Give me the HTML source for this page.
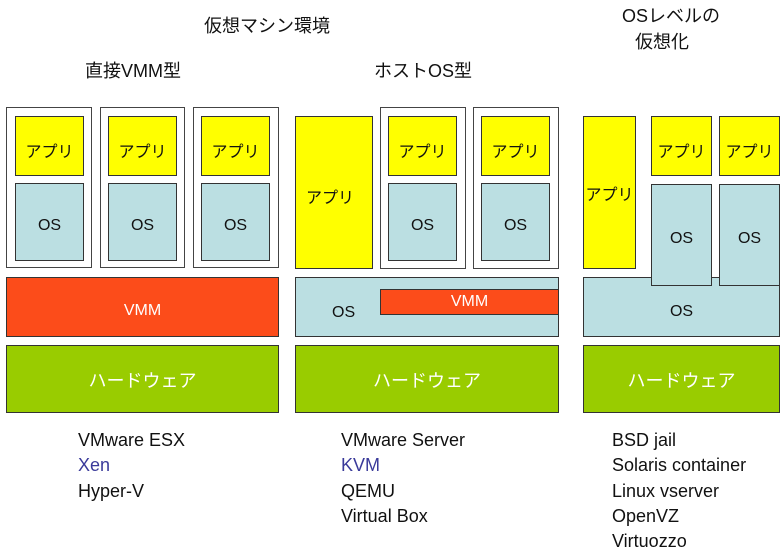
<!DOCTYPE html>
<html><head><meta charset="utf-8"><style>
body{margin:0;width:784px;height:553px;background:#fff;position:relative;overflow:hidden;font-family:"Liberation Sans","Noto Sans CJK JP",sans-serif;}
div{position:absolute;box-sizing:border-box;}
.b{border:1.5px solid #333;display:flex;align-items:center;justify-content:center;font-size:16px;color:#111;padding-top:7px;}
.vm{border:1.5px solid #444;background:#fff;}
.app{background:#ffff00;}
.os{background:#bbdfe2;}
.vmm{background:#fc4c1a;color:#fff;}
.hw{background:#99cc00;color:#fff;font-size:18px;padding-top:2px;}
.t{font-size:18px;color:#111;white-space:nowrap;}
.l{font-size:18px;color:#111;line-height:25.3px;white-space:nowrap;}
.l span{color:#3a3a9a;}
</style></head><body>
<div class="t" style="left:204px;top:12px">仮想マシン環境</div>
<div class="t" style="left:85px;top:57px">直接VMM型</div>
<div class="t" style="left:374px;top:57px">ホストOS型</div>
<div class="t" style="left:622px;top:3px;text-align:center;width:80px;line-height:26px">OSレベルの<br>仮想化</div>

<div class="vm" style="left:6px;top:107px;width:86px;height:161px"></div>
<div class="vm" style="left:100px;top:107px;width:85px;height:161px"></div>
<div class="vm" style="left:193px;top:107px;width:86px;height:161px"></div>
<div class="b app" style="left:15px;top:116px;width:69px;height:60px">アプリ</div>
<div class="b app" style="left:108px;top:116px;width:69px;height:60px">アプリ</div>
<div class="b app" style="left:201px;top:116px;width:69px;height:60px">アプリ</div>
<div class="b os" style="left:15px;top:183px;width:69px;height:78px">OS</div>
<div class="b os" style="left:108px;top:183px;width:69px;height:78px">OS</div>
<div class="b os" style="left:201px;top:183px;width:69px;height:78px">OS</div>
<div class="b vmm" style="left:6px;top:277px;width:273px;height:60px">VMM</div>
<div class="b hw" style="left:6px;top:345px;width:273px;height:68px">ハードウェア</div>

<div class="b app" style="left:295px;top:116px;width:78px;height:153px;justify-content:flex-start;padding-left:10px">アプリ</div>
<div class="vm" style="left:380px;top:107px;width:86px;height:162px"></div>
<div class="vm" style="left:473px;top:107px;width:86px;height:162px"></div>
<div class="b app" style="left:388px;top:116px;width:69px;height:60px">アプリ</div>
<div class="b app" style="left:481px;top:116px;width:69px;height:60px">アプリ</div>
<div class="b os" style="left:388px;top:183px;width:69px;height:78px">OS</div>
<div class="b os" style="left:481px;top:183px;width:69px;height:78px">OS</div>
<div class="b os" style="left:295px;top:277px;width:264px;height:60px;justify-content:flex-start;padding-left:36px;padding-top:12px">OS</div>
<div class="b vmm" style="left:380px;top:289px;width:179px;height:26px;padding-top:0">VMM</div>
<div class="b hw" style="left:295px;top:345px;width:264px;height:68px">ハードウェア</div>

<div class="b app" style="left:583px;top:116px;width:53px;height:153px;padding-top:0">アプリ</div>
<div class="b os" style="left:583px;top:277px;width:197px;height:60px;padding-top:10px">OS</div>
<div class="b app" style="left:651px;top:116px;width:61px;height:60px">アプリ</div>
<div class="b app" style="left:719px;top:116px;width:61px;height:60px">アプリ</div>
<div class="b os" style="left:651px;top:184px;width:61px;height:102px">OS</div>
<div class="b os" style="left:719px;top:184px;width:61px;height:102px">OS</div>
<div class="b hw" style="left:583px;top:345px;width:197px;height:68px">ハードウェア</div>

<div class="l" style="left:78px;top:428px">VMware ESX<br><span>Xen</span><br>Hyper-V</div>
<div class="l" style="left:341px;top:428px">VMware Server<br><span>KVM</span><br>QEMU<br>Virtual Box</div>
<div class="l" style="left:612px;top:428px">BSD jail<br>Solaris container<br>Linux vserver<br>OpenVZ<br>Virtuozzo</div>
</body></html>
